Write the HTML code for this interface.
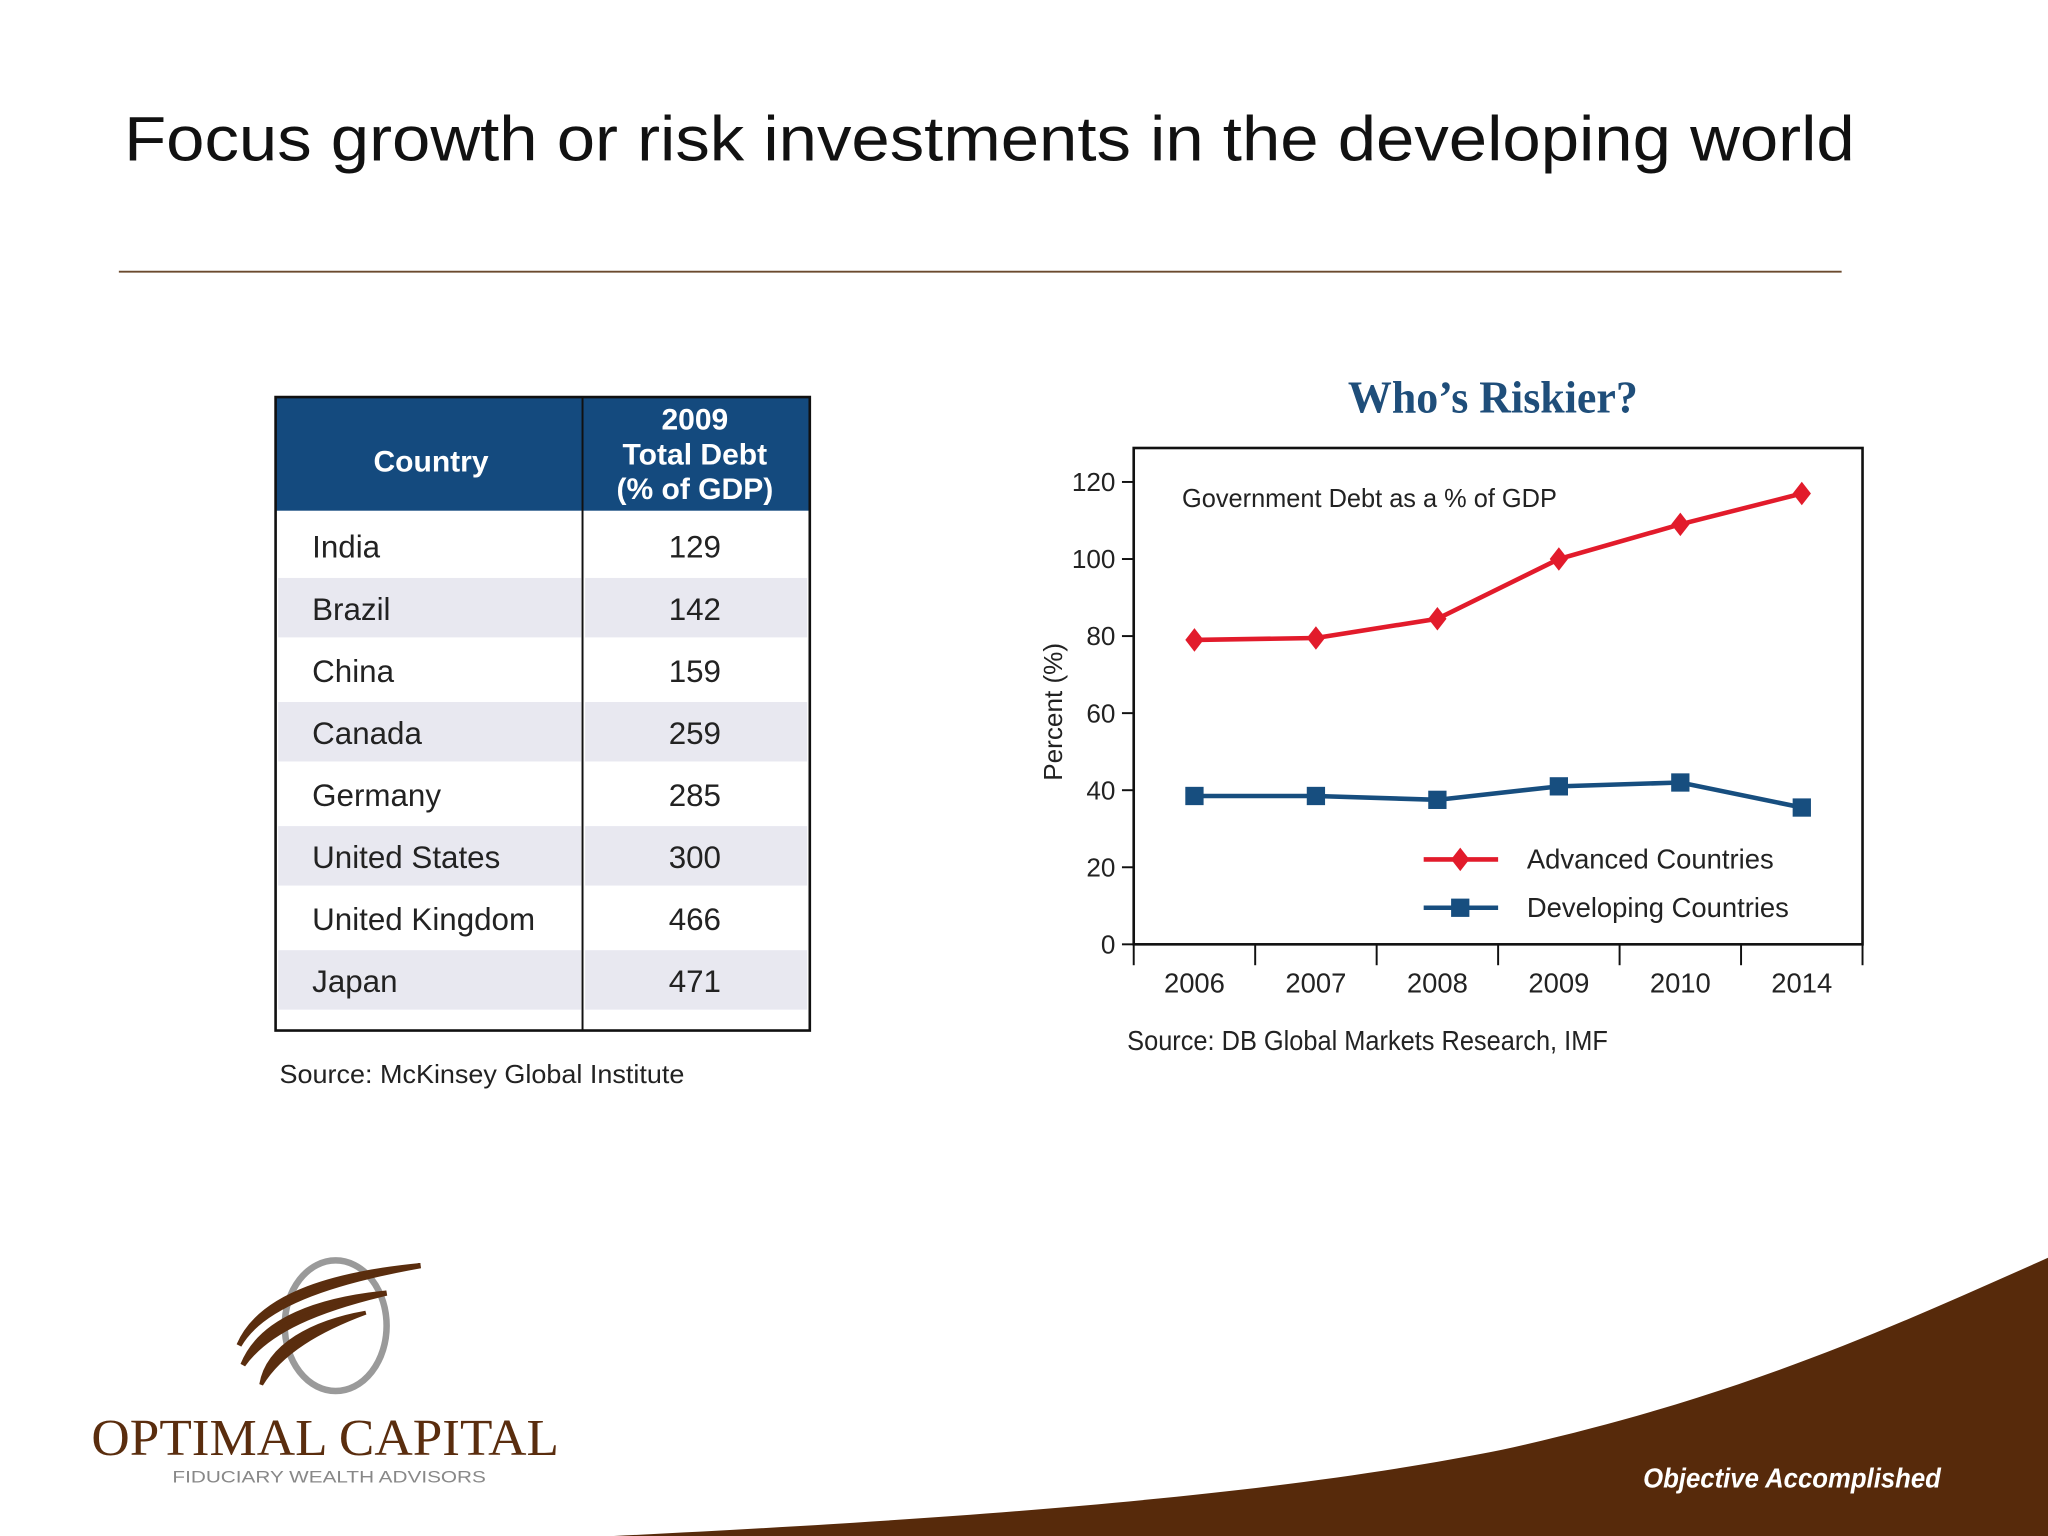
<!DOCTYPE html>
<html><head><meta charset="utf-8"><style>
html,body{margin:0;padding:0;background:#fff;}
svg{display:block;}
</style></head><body>
<svg width="2048" height="1536" viewBox="0 0 1568 1176" xmlns="http://www.w3.org/2000/svg" font-family="'Liberation Sans', sans-serif">
<rect x="0" y="0" width="1568" height="1176" fill="#ffffff"/>
<text x="95" y="123" font-size="48" fill="#111" textLength="1325" lengthAdjust="spacingAndGlyphs">Focus growth or risk investments in the developing world</text>
<line x1="91" y1="208" x2="1410" y2="208" stroke="#6b4a2e" stroke-width="1.5"/>

<g id="tbl"></g>
<text x="214" y="829" font-size="20" fill="#222" textLength="310" lengthAdjust="spacingAndGlyphs">Source: McKinsey Global Institute</text>

<text x="1143" y="316" font-size="35" font-weight="bold" fill="#1f4e7a" text-anchor="middle" font-family="'Liberation Serif', serif" textLength="222" lengthAdjust="spacingAndGlyphs">Who’s Riskier?</text>
<g id="chart"></g>

<path d="M470,1176 C800,1160 1000,1140 1150,1110 C1330,1070 1440,1020 1568,963 L1568,1176 Z" fill="#572a0b"/>
<text x="1258" y="1139" font-size="21" font-style="italic" font-weight="bold" fill="#fff" textLength="228" lengthAdjust="spacingAndGlyphs">Objective Accomplished</text>

<g>
<ellipse cx="257" cy="1015" rx="39" ry="50" fill="none" stroke="#9a9a9a" stroke-width="5"/>
<path d="M322,969 C260,975 200,990 183,1030 C200,1000 250,982 322,969 Z" fill="#5a2d0e" stroke="#5a2d0e" stroke-width="4"/>
<path d="M296,990 C245,995 200,1010 186,1045 C205,1018 245,1002 296,990 Z" fill="#5a2d0e" stroke="#5a2d0e" stroke-width="4"/>
<path d="M280,1005 C240,1012 205,1030 200,1060 C215,1035 245,1018 280,1005 Z" fill="#5a2d0e" stroke="#5a2d0e" stroke-width="3"/>
<text x="70" y="1114" font-size="40" fill="#5a2d0e" font-family="'Liberation Serif', serif" textLength="358" lengthAdjust="spacingAndGlyphs">OPTIMAL CAPITAL</text>
<text x="132" y="1135" font-size="13" fill="#888" textLength="240" lengthAdjust="spacingAndGlyphs">FIDUCIARY WEALTH ADVISORS</text>
</g>
</svg>
<script>
const NS='http://www.w3.org/2000/svg';
function mk(parent,tag,attrs,text){const e=document.createElementNS(NS,tag);for(const k in attrs)e.setAttribute(k,attrs[k]);if(text!==undefined)e.textContent=text;parent.appendChild(e);return e;}

// ---- table data ----
const countries=['India','Brazil','China','Canada','Germany','United States','United Kingdom','Japan'];
const debtValues=[129,142,159,259,285,300,466,471];

const tbl=document.getElementById('tbl');
const tx=211,tw=409,ty=304,hh=87,rh=47.5,cdiv=446;
let hd=mk(tbl,'rect',{x:tx,y:ty,width:tw,height:hh,fill:'#144a7e'});


mk(tbl,'text',{x:330,y:361,'font-size':23,'font-weight':'bold',fill:'#fff','text-anchor':'middle'},'Country');
['2009','Total Debt','(% of GDP)'].forEach((t,i)=>{mk(tbl,'text',{x:532,y:329+i*26.5,'font-size':23,'font-weight':'bold',fill:'#fff','text-anchor':'middle'},t);});
countries.forEach((c,i)=>{
  const y0=ty+hh+4+i*rh;
  const g=mk(tbl,'g',{});
  
  
  if(i%2===1){mk(g,'rect',{x:tx+2,y:y0,width:cdiv-tx-3,height:rh-2,fill:'#e8e8f0'});mk(g,'rect',{x:cdiv+2,y:y0,width:tx+tw-cdiv-4,height:rh-2,fill:'#e8e8f0'});}
  mk(g,'text',{x:239,y:y0+32,'font-size':24,fill:'#222'},c);
  mk(g,'text',{x:532,y:y0+32,'font-size':24,fill:'#222','text-anchor':'middle'},String(debtValues[i]));
});
mk(tbl,'rect',{x:tx,y:ty,width:tw,height:789-ty,fill:'none',stroke:'#111','stroke-width':2});
mk(tbl,'line',{x1:cdiv,y1:ty,x2:cdiv,y2:789,stroke:'#111','stroke-width':1.5});

// ---- chart data ----
const years=['2006','2007','2008','2009','2010','2014'];
const advanced=[79,79.5,84.5,100,109,117];
const developing=[38.5,38.5,37.5,41,42,35.5];
const yTicks=[0,20,40,60,80,100,120];

const ch=document.getElementById('chart');
const L=868,R=1426,T=343,B=723;
const yScale=v=>B-(v/120)*(369-B)*-1;
const ys=v=>B-v*(B-369)/120;
const bw=(R-L)/years.length;
const xs=i=>L+bw*(i+0.5);
mk(ch,'rect',{x:L,y:T,width:R-L,height:B-T,fill:'none',stroke:'#111','stroke-width':2});
yTicks.forEach(v=>{
  const t=mk(ch,'text',{x:854,y:ys(v)+7,'font-size':20,fill:'#222','text-anchor':'end'},String(v));
  
  
  mk(ch,'line',{x1:859,y1:ys(v),x2:L,y2:ys(v),stroke:'#111','stroke-width':1.5});
});
for(let i=0;i<=years.length;i++){mk(ch,'line',{x1:L+bw*i,y1:B,x2:L+bw*i,y2:739,stroke:'#111','stroke-width':1.5});}
years.forEach((y,i)=>{
  const t=mk(ch,'text',{x:xs(i),y:760,'font-size':21,fill:'#222','text-anchor':'middle'},y);
  
  
});
const yl=mk(ch,'text',{x:0,y:0,'font-size':20,fill:'#222','text-anchor':'middle',transform:'translate(813,545) rotate(-90)'},'Percent (%)');


const st=mk(ch,'text',{x:905,y:388,'font-size':20,fill:'#222',textLength:287,lengthAdjust:'spacingAndGlyphs'},'Government Debt as a % of GDP');



function series(vals,color,shape,name){
  const g=mk(ch,'g',{});
  
  
  mk(g,'polyline',{points:vals.map((v,i)=>xs(i)+','+ys(v)).join(' '),fill:'none',stroke:color,'stroke-width':3.5});
  vals.forEach((v,i)=>{
    const x=xs(i),y=ys(v);
    let m;
    if(shape==='d')m=mk(g,'path',{d:`M${x},${y-9} L${x+7},${y} L${x},${y+9} L${x-7},${y} Z`,fill:color});
    else m=mk(g,'rect',{x:x-7,y:y-7,width:14,height:14,fill:color});
    
    
  });
}
series(advanced,'#e21b2b','d','advanced-countries-line');
series(developing,'#174e7f','s','developing-countries-line');

function legend(y,color,shape,label,key){
  const g=mk(ch,'g',{});
  
  
  mk(g,'line',{x1:1090,y1:y,x2:1147,y2:y,stroke:color,'stroke-width':3.5});
  if(shape==='d')mk(g,'path',{d:`M1118,${y-9} L1125,${y} L1118,${y+9} L1111,${y} Z`,fill:color});
  else mk(g,'rect',{x:1111,y:y-7,width:14,height:14,fill:color});
  mk(g,'text',{x:1169,y:y+7,'font-size':21,fill:'#222'},label);
}
legend(658,'#e21b2b','d','Advanced Countries','advanced');
legend(695,'#174e7f','s','Developing Countries','developing');
const src=mk(ch,'text',{x:863,y:804,'font-size':21,fill:'#222',textLength:368,lengthAdjust:'spacingAndGlyphs'},'Source: DB Global Markets Research, IMF');


</script>
</body></html>
